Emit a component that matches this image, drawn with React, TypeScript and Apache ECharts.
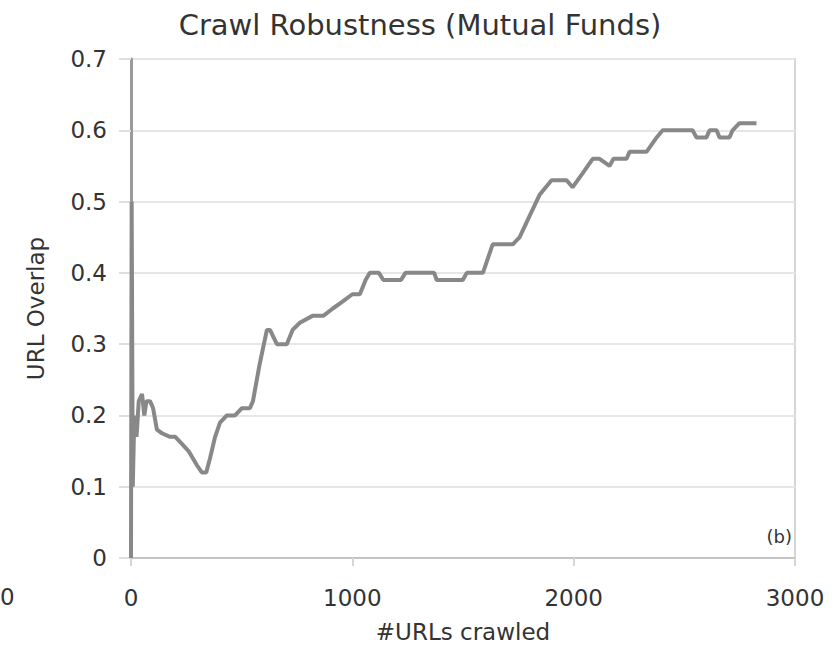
import React, { useEffect, useRef } from "react";
import * as echarts from "echarts";

const titleText = "Crawl Robustness (Mutual Funds)";
const xAxisName = "#URLs crawled";
const yAxisName = "URL Overlap";
const panelLabel = "(b)";
const strayLabel = "0";

const urlsCrawled = [
  0, 3, 8, 15, 25, 35, 50, 60, 70, 86, 100, 117, 140, 176, 200, 230, 260, 298, 320, 340,
  357, 380, 402, 433, 470, 500, 537, 551, 580, 614, 628, 659, 704, 730, 763, 822, 870, 912,
  957, 1000, 1034, 1060, 1079, 1120, 1140, 1220, 1240, 1305, 1370, 1381, 1499, 1517, 1590,
  1634, 1725, 1756, 1801, 1847, 1900, 1968, 1995, 2041, 2086, 2117, 2162, 2180, 2239, 2253,
  2330, 2375, 2402, 2537, 2555, 2600, 2614, 2646, 2659, 2704, 2718, 2749, 2826,
];
const urlOverlap = [
  0, 0.5, 0.1, 0.2, 0.17, 0.22, 0.23, 0.2, 0.22, 0.22, 0.21, 0.18, 0.175, 0.17, 0.17, 0.16,
  0.15, 0.13, 0.12, 0.12, 0.14, 0.17, 0.19, 0.2, 0.2, 0.21, 0.21, 0.22, 0.27, 0.32, 0.32,
  0.3, 0.3, 0.32, 0.33, 0.34, 0.34, 0.35, 0.36, 0.37, 0.37, 0.39, 0.4, 0.4, 0.39, 0.39, 0.4,
  0.4, 0.4, 0.39, 0.39, 0.4, 0.4, 0.44, 0.44, 0.45, 0.48, 0.51, 0.53, 0.53, 0.52, 0.54, 0.56,
  0.56, 0.55, 0.56, 0.56, 0.57, 0.57, 0.59, 0.6, 0.6, 0.59, 0.59, 0.6, 0.6, 0.59, 0.59, 0.6,
  0.61, 0.61,
];

const xMin = 0;
const xMax = 3000;
const xInterval = 1000;
const yMin = 0;
const yMax = 0.7;
const yInterval = 0.1;

const FONT = "DejaVu Sans";

export default function App() {
  const ref = useRef<HTMLDivElement>(null);
  useEffect(() => {
    if (!ref.current) return;
    const chart = echarts.init(ref.current, undefined, { renderer: "svg" });
    const data = urlsCrawled.map((x, i) => [x, urlOverlap[i]]);
    chart.setOption({
      animation: false,
      backgroundColor: "#ffffff",
      title: {
        text: titleText,
        left: "center",
        top: 5,
        textStyle: { fontFamily: FONT, fontSize: 29, fontWeight: "normal", color: "#333" },
      },
      grid: {
        left: 131,
        right: 45,
        top: 59,
        bottom: 97,
        show: true,
        borderColor: "#d6d6d6",
        borderWidth: 2,
      },
      xAxis: {
        type: "value",
        min: xMin,
        max: xMax,
        interval: xInterval,
        name: xAxisName,
        nameLocation: "middle",
        nameGap: 62,
        nameTextStyle: { fontFamily: FONT, fontSize: 23, color: "#333" },
        axisLine: { show: true, lineStyle: { color: "#c4c4c4", width: 2 } },
        axisTick: { show: true, length: 8, lineStyle: { color: "#d6d6d6", width: 2 } },
        axisLabel: {
          fontFamily: FONT,
          fontSize: 23,
          color: "#333",
          margin: 28,
          formatter: (v: number) => String(v),
        },
        splitLine: { show: false },
      },
      yAxis: {
        type: "value",
        min: yMin,
        max: yMax,
        interval: yInterval,
        name: yAxisName,
        nameLocation: "middle",
        nameGap: 84,
        nameTextStyle: { fontFamily: FONT, fontSize: 23, color: "#333" },
        axisLine: { show: true, lineStyle: { color: "#9a9a9a", width: 3 } },
        axisTick: { show: true, length: 12, lineStyle: { color: "#dedede", width: 2 } },
        axisLabel: {
          fontFamily: FONT,
          fontSize: 23,
          color: "#333",
          margin: 24,
          formatter: (v: number) => (v === 0 ? "0" : v.toFixed(1)),
        },
        splitLine: { show: true, lineStyle: { color: "#e6e6e6", width: 2 } },
      },
      series: [
        {
          type: "line",
          data,
          showSymbol: false,
          lineStyle: { color: "#888888", width: 4 },
          z: 3,
        },
      ],
      graphic: [
        {
          type: "text",
          right: 48,
          top: 527,
          style: { text: panelLabel, fontFamily: FONT, fontSize: 18, fill: "#333" },
        },
        {
          type: "text",
          x: 0,
          y: 585,
          style: { text: strayLabel, fontFamily: FONT, fontSize: 23, fill: "#333", textAlign: "left" },
        },
      ],
    });
    return () => chart.dispose();
  }, []);
  return <div ref={ref} style={{ width: 840, height: 655, position: "absolute", left: 0, top: 0 }} />;
}
